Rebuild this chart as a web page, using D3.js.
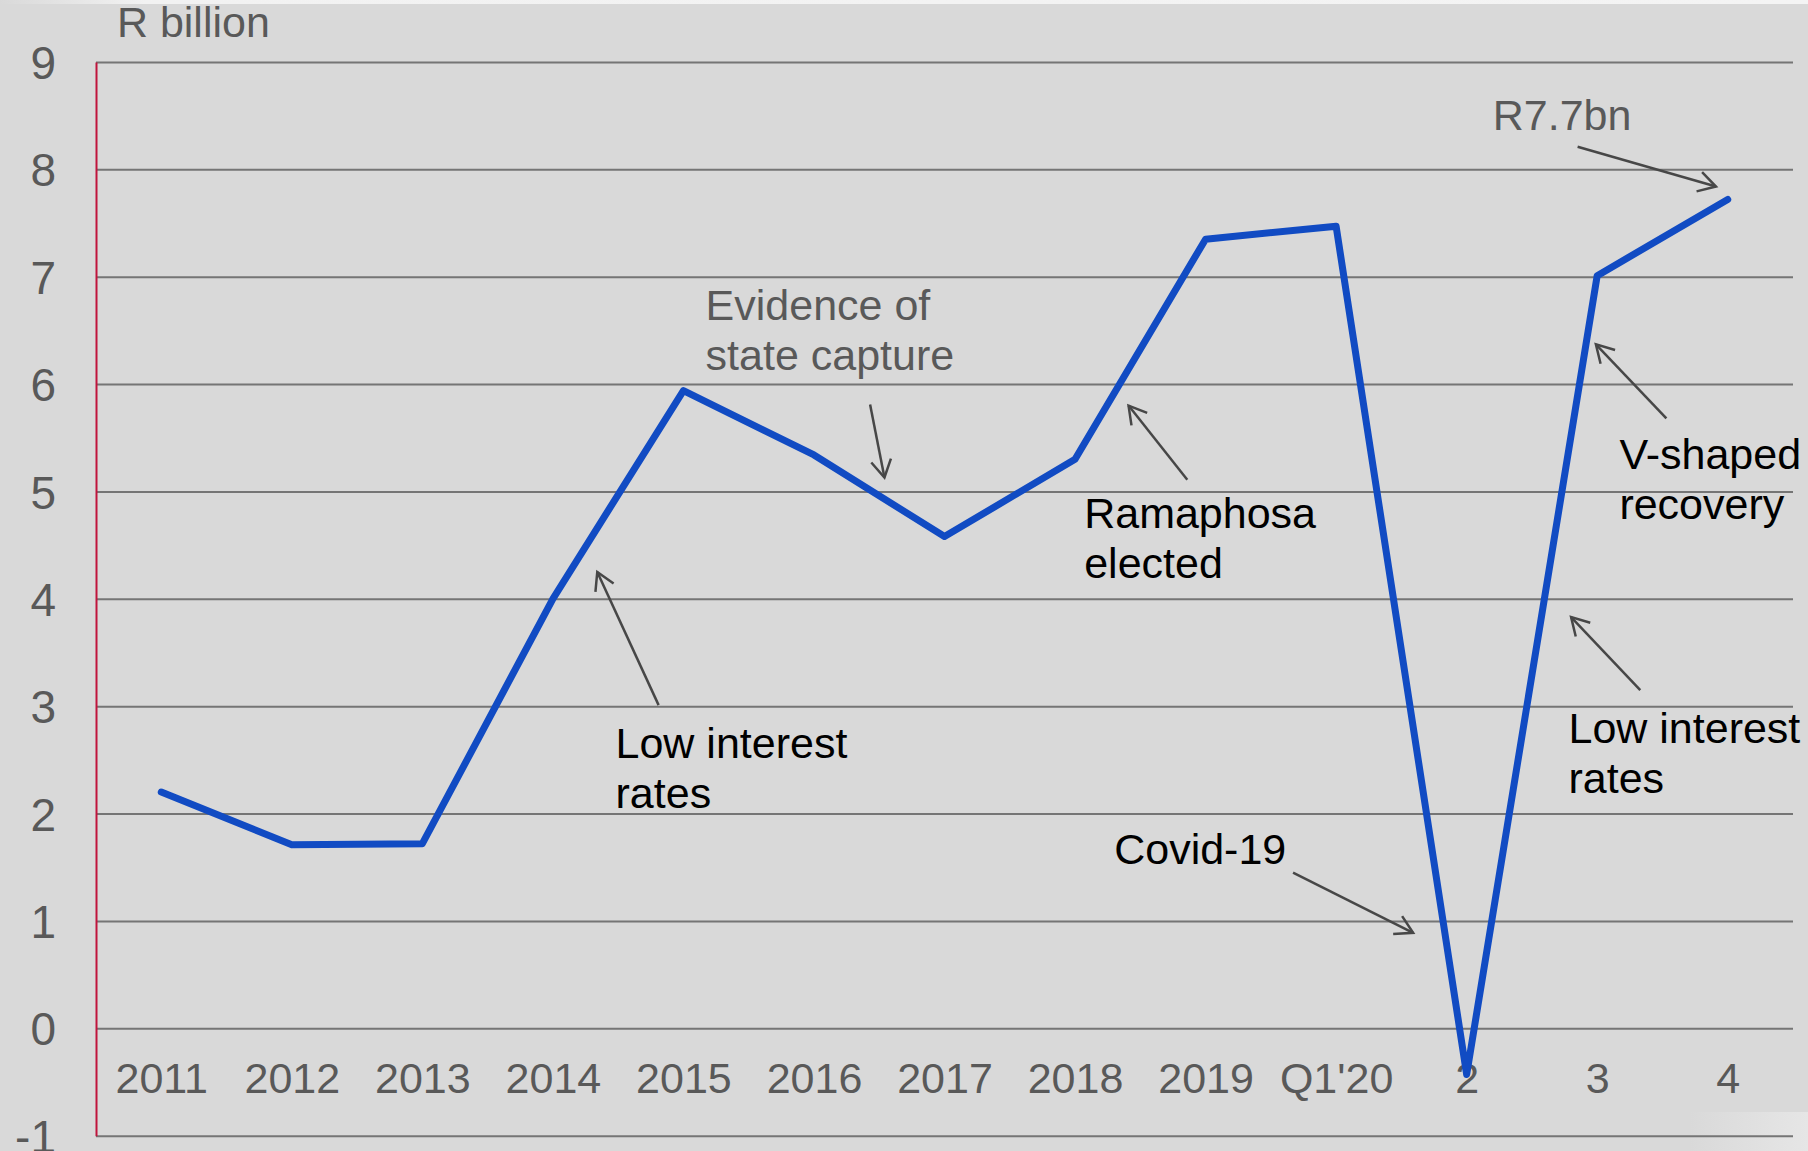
<!DOCTYPE html>
<html>
<head>
<meta charset="utf-8">
<script src="https://cdn.jsdelivr.net/npm/d3@7"></script>
<style>
  html, body { margin: 0; padding: 0; background: #d9d9d9; }
  svg { display: block; }
  text { font-family: "Liberation Sans", Arial, sans-serif; }
</style>
</head>
<body>
<svg id="chart" width="1808" height="1151"></svg>
<script>
// ---- data ----
const categories = ["2011","2012","2013","2014","2015","2016","2017","2018","2019","Q1'20","2","3","4"];
const values     = [2.2, 1.71, 1.72, 4.0, 5.94, 5.34, 4.58, 5.30, 7.35, 7.47, -0.43, 7.01, 7.72];
const yTicks     = [-1, 0, 1, 2, 3, 4, 5, 6, 7, 8, 9];
const unitLabel  = "R billion";

// annotations in data space: xi = category index (fractional), v = value
const annotationTexts = [
  { lines: ["R7.7bn"], xi: 10.20, v: 8.37, color: "#595959" },
  { lines: ["Evidence of", "state capture"], xi: 4.17, v: 6.60, color: "#595959" },
  { lines: ["Low interest", "rates"], xi: 3.48, v: 2.52, color: "#000000" },
  { lines: ["Ramaphosa", "elected"], xi: 7.07, v: 4.66, color: "#000000" },
  { lines: ["Covid-19"], xi: 7.30, v: 1.53, color: "#000000" },
  { lines: ["V-shaped", "recovery"], xi: 11.17, v: 5.21, color: "#000000" },
  { lines: ["Low interest", "rates"], xi: 10.78, v: 2.66, color: "#000000" }
];
const annotationArrows = [
  { from: [10.85, 8.21], to: [11.91, 7.84] },
  { from: [5.43, 5.81],  to: [5.54, 5.13] },
  { from: [8.67, 1.45],  to: [9.59, 0.89] },
  { from: [3.81, 3.01],  to: [3.34, 4.25] },
  { from: [7.86, 5.11],  to: [7.41, 5.80] },
  { from: [11.53, 5.68], to: [10.99, 6.37] },
  { from: [11.33, 3.15], to: [10.80, 3.83] }
];

// ---- layout ----
const W = 1808, H = 1151;
const padL = 96, padR = 1793, padT = 62, padB = 1135.7;
const FS = 43;

const svg = d3.select("#chart");

// background
svg.append("rect").attr("width", W).attr("height", H).attr("fill", "#d9d9d9");
const defs = svg.append("defs");
const g1 = defs.append("linearGradient").attr("id", "topfade").attr("x1", 0).attr("x2", 1).attr("y1", 0).attr("y2", 0);
g1.append("stop").attr("offset", "0%").attr("stop-color", "#d9d9d9");
g1.append("stop").attr("offset", "8%").attr("stop-color", "#f2f2f2");
g1.append("stop").attr("offset", "100%").attr("stop-color", "#f4f4f4");
svg.append("rect").attr("x", 0).attr("y", 0).attr("width", W).attr("height", 4).attr("fill", "url(#topfade)");
const g2 = defs.append("linearGradient").attr("id", "brfade").attr("x1", 0).attr("x2", 1).attr("y1", 0).attr("y2", 0);
g2.append("stop").attr("offset", "0%").attr("stop-color", "#d9d9d9");
g2.append("stop").attr("offset", "100%").attr("stop-color", "#e6e6e6");
svg.append("rect").attr("x", 1690).attr("y", 1112).attr("width", W - 1690).attr("height", H - 1112).attr("fill", "url(#brfade)");

// scales
const x = d3.scalePoint().domain(categories).range([padL, padR]).padding(0.5);
const y = d3.scaleLinear().domain([-1, 9]).range([padB, padT]);
const step = x.step();
const xAt = i => x(categories[0]) + i * step;

// y axis with gridlines
const yAxis = d3.axisLeft(y).tickValues(yTicks).tickFormat(d => String(d))
  .tickSize(-(padR - padL)).tickSizeOuter(0).tickPadding(40);
const yg = svg.append("g").attr("transform", `translate(${padL},0)`).call(yAxis);
yg.selectAll(".tick line").attr("stroke", "#757575").attr("stroke-width", 2);
yg.selectAll(".tick text").attr("fill", "#595959").attr("font-size", 46)
  .attr("font-family", '"Liberation Sans", Arial, sans-serif').attr("dy", "0.36em");
yg.select(".domain").attr("stroke", "#c0143c").attr("stroke-width", 2);
yg.select(".domain").raise();

// x axis labels
const xAxis = d3.axisBottom(x).tickSize(0).tickPadding(34);
const xg = svg.append("g").attr("transform", `translate(0,${y(0)})`).call(xAxis);
xg.select(".domain").remove();
xg.selectAll(".tick text").attr("fill", "#595959").attr("font-size", FS)
  .attr("font-family", '"Liberation Sans", Arial, sans-serif');

// unit label
svg.append("text").attr("x", xAt(-0.34)).attr("y", y(9.23))
  .attr("font-size", FS).attr("fill", "#595959").text(unitLabel);

// line
const line = d3.line().x((d, i) => x(categories[i])).y(d => y(d));
svg.append("path").datum(values).attr("d", line)
  .attr("fill", "none").attr("stroke", "#114bc3").attr("stroke-width", 7)
  .attr("stroke-linejoin", "round").attr("stroke-linecap", "round");

// annotation arrows
const ag = svg.append("g").attr("stroke", "#474747").attr("stroke-width", 2.5).attr("fill", "none");
annotationArrows.forEach(a => {
  const x1 = xAt(a.from[0]), y1 = y(a.from[1]);
  const x2 = xAt(a.to[0]), y2 = y(a.to[1]);
  ag.append("line").attr("x1", x1).attr("y1", y1).attr("x2", x2).attr("y2", y2);
  const ang = Math.atan2(y1 - y2, x1 - x2);
  const L = 20, spread = 30 * Math.PI / 180;
  const w1 = [x2 + L * Math.cos(ang + spread), y2 + L * Math.sin(ang + spread)];
  const w2 = [x2 + L * Math.cos(ang - spread), y2 + L * Math.sin(ang - spread)];
  ag.append("path").attr("d", `M${w1[0]},${w1[1]} L${x2},${y2} L${w2[0]},${w2[1]}`)
    .attr("stroke-linejoin", "miter");
});

// annotation texts
annotationTexts.forEach(a => {
  const t = svg.append("text").attr("x", xAt(a.xi)).attr("y", y(a.v))
    .attr("font-size", FS).attr("fill", a.color);
  a.lines.forEach((s, i) => {
    t.append("tspan").attr("x", xAt(a.xi)).attr("dy", i === 0 ? 0 : 50).text(s);
  });
});
</script>
</body>
</html>
